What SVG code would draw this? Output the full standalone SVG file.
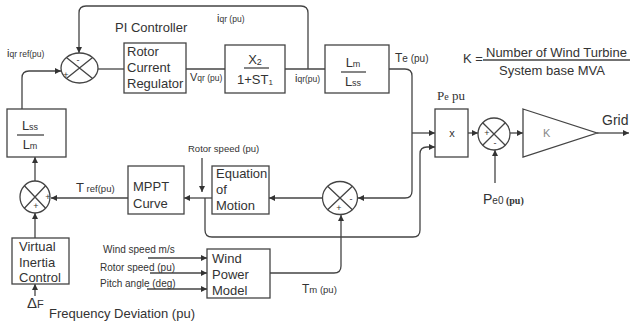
<svg xmlns="http://www.w3.org/2000/svg" width="630" height="327" viewBox="0 0 630 327">
<defs>
<marker id="arr" viewBox="0 0 10 10" refX="10" refY="5" markerWidth="7" markerHeight="6" markerUnits="userSpaceOnUse" orient="auto">
<path d="M0,0 L10,5 L0,10 z" fill="#333"/>
</marker>
<style>
.box{fill:#fff;stroke:#444;stroke-width:1.3}
.ln{fill:none;stroke:#444;stroke-width:1.3}
.ar{fill:none;stroke:#444;stroke-width:1.3;marker-end:url(#arr)}
.t{font-family:"Liberation Sans",Arial,sans-serif;fill:#333}
.b{font-size:13px}
.sg{font-family:"Liberation Sans",Arial,sans-serif;font-size:9px;fill:#333}
.sf{font-family:"Liberation Serif","Times New Roman",serif;fill:#333}
</style>
</defs>
<rect width="630" height="327" fill="#fff"/>

<g id="connectors">
<path class="ar" d="M308,69 V13 Q308,6 301,6 H86 Q79,6 79,13 V53"/>
<path class="ar" d="M22,109 V78 Q22,71 29,71 H61"/>
<path class="ln" d="M98,69 H124"/>
<path class="ln" d="M186,69 H225"/>
<path class="ln" d="M285,69 H325"/>
<path class="ar" d="M389,69 H405 Q412,69 412,76 V191 Q412,198 405,198 H358"/>
<path class="ar" d="M412,133 H435"/>
<path class="ar" d="M322,198 H269"/>
<path class="ar" d="M212,198 H184"/>
<path class="ar" d="M128,198 H51"/>
<path class="ar" d="M202,158 V192"/>
<path class="ar" d="M205,198 V230 Q205,237 212,237 H413 Q420,237 420,230 V154 Q420,147 427,147 H435"/>
<path class="ar" d="M35,181 V157"/>
<path class="ar" d="M35,238 V213"/>
<path class="ar" d="M35,296 V284"/>
<path class="ar" d="M148,258 H207"/>
<path class="ar" d="M150,273 H207"/>
<path class="ar" d="M147,289 H207"/>
<path class="ar" d="M270,273 H334 Q341,273 341,266 V215"/>
<path class="ar" d="M468,133 H478"/>
<path class="ar" d="M510,133 H523"/>
<path class="ar" d="M597,133 H629"/>
<path class="ar" d="M495,183 V150"/>
</g>

<g id="sum1">
<ellipse class="box" cx="79.5" cy="68" rx="18.5" ry="15"/>
<path class="ln" d="M66.4,57.4 L92.6,78.6 M92.6,57.4 L66.4,78.6"/>
<text class="sg" x="78" y="63" text-anchor="middle">-</text>
<text class="sg" x="66" y="78" text-anchor="middle">+</text>
</g>

<g id="rcr">
<rect class="box" x="124" y="43" width="62" height="50"/>
<text class="t b" x="127" y="56">Rotor</text>
<text class="t b" x="127" y="72">Current</text>
<text class="t b" x="127" y="88">Regulator</text>
</g>

<g id="x2">
<rect class="box" x="225" y="45" width="60" height="48"/>
<text class="t b" x="255" y="64" text-anchor="middle">X<tspan font-size="9" dy="1">2</tspan></text>
<path class="ln" d="M244,68 H269"/>
<text class="t b" x="255" y="84" text-anchor="middle">1+ST<tspan font-size="8" dy="1">1</tspan></text>
</g>

<g id="lmlss">
<rect class="box" x="325" y="45" width="64" height="48"/>
<text class="t b" x="353" y="67" text-anchor="middle">L<tspan font-size="9">m</tspan></text>
<path class="ln" d="M341,72 H366"/>
<text class="t b" x="353" y="86" text-anchor="middle">L<tspan font-size="9">ss</tspan></text>
</g>

<g id="lsslm">
<rect class="box" x="7" y="109" width="59" height="48"/>
<text class="t b" x="30" y="130" text-anchor="middle">L<tspan font-size="9">ss</tspan></text>
<path class="ln" d="M17,135 H44"/>
<text class="t b" x="30" y="149" text-anchor="middle">L<tspan font-size="9">m</tspan></text>
</g>

<g id="sum2">
<ellipse class="box" cx="35" cy="197" rx="15" ry="16"/>
<path class="ln" d="M24.4,185.7 L45.6,208.3 M45.6,185.7 L24.4,208.3"/>
<text class="sg" x="48" y="200" text-anchor="middle">+</text>
<text class="sg" x="36" y="209" text-anchor="middle">+</text>
</g>

<g id="mppt">
<rect class="box" x="128" y="166" width="56" height="48"/>
<text class="t b" x="133" y="191">MPPT</text>
<text class="t b" x="133" y="208">Curve</text>
</g>

<g id="eqm">
<rect class="box" x="212" y="166" width="57" height="48"/>
<text class="t b" x="216" y="178">Equation</text>
<text class="t b" x="216" y="194">of</text>
<text class="t b" x="216" y="210">Motion</text>
</g>

<g id="sum3">
<ellipse class="box" cx="340" cy="198" rx="17.5" ry="16.5"/>
<path class="ln" d="M327.6,186.3 L352.4,209.7 M352.4,186.3 L327.6,209.7"/>
<text class="sg" x="351" y="202" text-anchor="middle">-</text>
<text class="sg" x="339" y="211" text-anchor="middle">+</text>
</g>

<g id="vic">
<rect class="box" x="12" y="238" width="57" height="46"/>
<text class="t b" x="19" y="251">Virtual</text>
<text class="t b" x="19" y="267">Inertia</text>
<text class="t b" x="19" y="282">Control</text>
</g>

<g id="wpm">
<rect class="box" x="207" y="249" width="63" height="49"/>
<text class="t b" x="212" y="263">Wind</text>
<text class="t b" x="212" y="279">Power</text>
<text class="t b" x="212" y="295">Model</text>
</g>

<g id="mult">
<rect class="box" x="435" y="109" width="33" height="48"/>
<text class="t" font-size="11" x="452" y="137" text-anchor="middle">x</text>
</g>

<g id="sum4">
<ellipse class="box" cx="494" cy="134" rx="16" ry="16"/>
<path class="ln" d="M482.7,122.7 L505.3,145.3 M505.3,122.7 L482.7,145.3"/>
<text class="sg" x="487" y="136" text-anchor="middle">+</text>
<text class="sg" x="495" y="146" text-anchor="middle">-</text>
</g>

<g id="gain">
<path class="box" d="M523,109 L597,133 L523,157 Z"/>
<text class="t" font-size="11" style="fill:#888" x="543" y="137">K</text>
</g>

<g id="labels">
<text class="t" x="115" y="32" font-size="13">PI Controller</text>
<text class="t" x="7" y="57" font-size="11">i<tspan font-size="8.5">qr ref(pu)</tspan></text>
<text class="t" x="217" y="22" font-size="11">i<tspan font-size="8.5">qr (pu)</tspan></text>
<text class="t" x="190" y="81" font-size="11">V<tspan font-size="8.5">qr (pu)</tspan></text>
<text class="t" x="295" y="82" font-size="11">i<tspan font-size="8.5">qr(pu)</tspan></text>
<text class="t" x="395" y="62" font-size="12">T<tspan font-size="10">e (pu)</tspan></text>
<text class="t" x="463" y="63" font-size="13">K =</text>
<text class="t" x="486" y="57" font-size="13">Number of Wind Turbine</text>
<path class="ln" d="M483,60 H630"/>
<text class="t" x="499" y="75" font-size="13">System base MVA</text>
<text class="sf" x="437" y="100" font-size="13">P<tspan font-size="10">e</tspan> pu</text>
<text class="t" x="602" y="125" font-size="14">Grid</text>
<text class="t" x="483" y="204" font-size="14">P<tspan font-size="10">e0</tspan><tspan class="sf" font-size="10" font-weight="bold"> (pu)</tspan></text>
<text class="t" x="188" y="152" font-size="9.5">Rotor speed (pu)</text>
<text class="t" x="76" y="192" font-size="13">T<tspan font-size="9.5"> ref(pu)</tspan></text>
<text class="t" x="302" y="293" font-size="12">T<tspan font-size="9.5">m (pu)</tspan></text>
<text class="t" x="103" y="253" font-size="10">Wind speed m/s</text>
<text class="t" x="100" y="271" font-size="10">Rotor speed (pu)</text>
<text class="t" x="100" y="287" font-size="10">Pitch angle (deg)</text>
<text class="t" x="27" y="308" font-size="15">Δ<tspan font-size="11">F</tspan></text>
<text class="t" x="49" y="318" font-size="13">Frequency Deviation (pu)</text>
</g>
</svg>
